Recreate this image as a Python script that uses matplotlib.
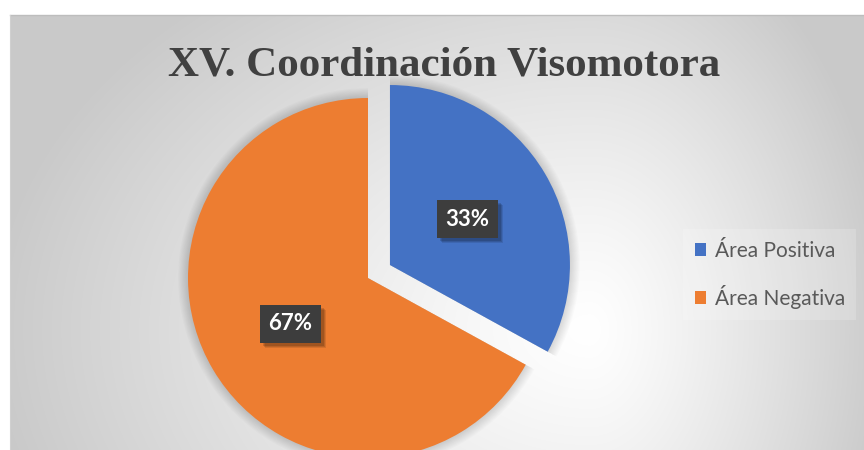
import numpy as np
import matplotlib.pyplot as plt
from matplotlib.patches import Rectangle

categories = ['Área Positiva', 'Área Negativa']
values = [33, 67]
colors = ['#4472C4', '#ED7D31']
title = 'XV. Coordinación Visomotora'

plt.rcParams['hatch.color'] = '#4a4a4a'
plt.rcParams['hatch.linewidth'] = 1.2

W, H = 864, 450
fig = plt.figure(figsize=(W / 100, H / 100), dpi=100)
fig.patch.set_facecolor('white')
ax = fig.add_axes([0, 0, 1, 1])

# chart area background: soft gray gradient, bright around the right of the pie
xs = np.arange(10, W) + 0.5
ys = np.arange(15, H) + 0.5
gx, gy = np.meshgrid(xs, ys)
cx, cy = 590, 330
dx = np.where(gx < cx, (gx - cx) / 600, (gx - cx) / 300)
dy = (gy - cy) / 430
d = np.clip(np.sqrt(dx ** 2 + dy ** 2), 0, 1)
shade = 1 - 0.21 * d ** 1.2
ax.imshow(np.dstack([shade] * 3), extent=[10, W, 0, H - 15], origin='upper',
          interpolation='bilinear', zorder=0)
ax.plot([10, W], [H - 15, H - 15], color='#bdbdbd', lw=1, zorder=0.5)
ax.plot([10, 10], [0, H - 15], color='#d0d0d0', lw=0.8, zorder=0.5)

center = (368, H - 278)
radius = 180
explode = [25.5, 0]

# soft glow/shadow around the pie
for i in range(1, 10):
    ax.pie(values, radius=radius + i * 1.1, center=center, explode=explode,
           colors=['black', 'black'], startangle=90, counterclock=False,
           wedgeprops=dict(alpha=0.014, linewidth=0), frame=True)

wedges, _, autotexts = ax.pie(
    values, radius=radius, center=center, explode=explode, colors=colors,
    startangle=90, counterclock=False, autopct='%1.0f%%', pctdistance=0.5,
    wedgeprops=dict(linewidth=0), frame=True,
    textprops=dict(color='white', fontsize=16, fontweight='bold', fontfamily='Lato'))

for t in autotexts:
    t.set_zorder(4)
    t.set_bbox(dict(boxstyle='square,pad=0.38', facecolor='#3d3d3d',
                    edgecolor='#3d3d3d', linewidth=0, hatch='..'))

ax.text(444, H - 76, title, ha='center', va='baseline',
        fontfamily='Liberation Serif', fontweight='bold', fontsize=31,
        color='#404040', zorder=5)

leg = ax.legend(wedges, categories, loc='upper left',
                bbox_to_anchor=(673, H - 219), bbox_transform=ax.transData,
                frameon=True, fancybox=False, facecolor='white', framealpha=0.18,
                edgecolor='none', handlelength=0.55, handleheight=0.55,
                handletextpad=0.4, labelspacing=1.15, borderpad=0.55,
                prop=dict(family='Lato', size=15))
for txt in leg.get_texts():
    txt.set_color('#595959')

ax.set_xlim(0, W)
ax.set_ylim(0, H)
ax.set_aspect('auto')
ax.axis('off')

# drop shadow under the data-label boxes
fig.canvas.draw()
for t in autotexts:
    bb = t.get_bbox_patch().get_window_extent()
    for k, a in [(5, 0.10), (4, 0.12), (3, 0.14)]:
        ax.add_patch(Rectangle((bb.x0 + k, bb.y0 - k), bb.width, bb.height,
                               facecolor='black', alpha=a, linewidth=0, zorder=3))

fig.savefig('out.png', dpi=100, facecolor='white')
